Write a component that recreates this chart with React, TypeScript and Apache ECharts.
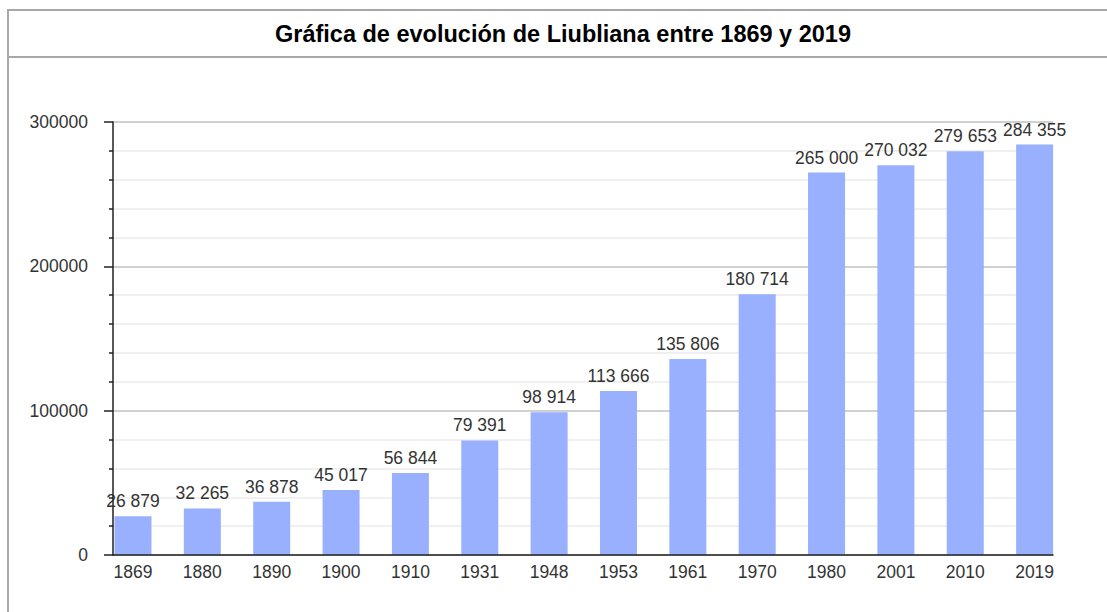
import React, { useEffect, useRef } from "react";
import * as echarts from "echarts";

const years = ["1869", "1880", "1890", "1900", "1910", "1931", "1948", "1953", "1961", "1970", "1980", "2001", "2010", "2019"];
const population = [26879, 32265, 36878, 45017, 56844, 79391, 98914, 113666, 135806, 180714, 265000, 270032, 279653, 284355];
const yTicks = { min: 0, max: 300000, interval: 100000 };
const titleText = "Gráfica de evolución de Liubliana entre 1869 y 2019";

const fmt = (v: number) => String(v).replace(/\B(?=(\d{3})+(?!\d))/g, " ");

export default function App() {
  const ref = useRef<HTMLDivElement>(null);
  useEffect(() => {
    if (!ref.current) return;
    const chart = echarts.init(ref.current, undefined, { renderer: "svg" });
    const font = "'Liberation Sans', Arial, sans-serif";
    chart.setOption({
      animation: false,
      backgroundColor: "#ffffff",
      textStyle: { fontFamily: font },
      graphic: [
        {
          type: "rect",
          shape: { x: 8, y: 10, width: 1300, height: 800 },
          style: { fill: "none", stroke: "#a8a8a8", lineWidth: 2 },
          z: 10,
        },
        {
          type: "line",
          shape: { x1: 8, y1: 57, x2: 1107, y2: 57 },
          style: { stroke: "#a8a8a8", lineWidth: 2 },
          z: 10,
        },
        {
          type: "text",
          x: 563,
          y: 34,
          style: {
            text: titleText,
            font: "bold 23.5px 'Liberation Sans', Arial, sans-serif",
            fill: "#000",
            textAlign: "center",
            textVerticalAlign: "middle",
          },
          z: 10,
        },
      ],
      grid: [
        { left: 113, top: 122, width: 940, height: 433, containLabel: false },
        { left: 98.3, top: 122, width: 971, height: 433, containLabel: false },
      ],
      xAxis: [
        {
          gridIndex: 0,
          type: "value",
          min: 0,
          max: 1,
          z: 5,
          axisLine: { show: true, lineStyle: { color: "#222", width: 1.5 } },
          axisTick: { show: false },
          axisLabel: { show: false },
          splitLine: { show: false },
        },
        {
          gridIndex: 1,
          type: "category",
          data: years,
          axisLine: { show: false },
          axisTick: { show: false },
          axisLabel: { fontSize: 17.5, color: "#333", margin: 8, fontFamily: font },
          splitLine: { show: false },
        },
      ],
      yAxis: [
        {
          gridIndex: 0,
          type: "value",
          min: yTicks.min,
          max: yTicks.max,
          interval: yTicks.interval,
          z: 0,
          axisLine: { show: true, lineStyle: { color: "#222", width: 1.5 } },
          axisTick: { show: true, length: 9, lineStyle: { color: "#222", width: 1.5 } },
          minorTick: { show: true, splitNumber: 5, length: 4, lineStyle: { color: "#222", width: 1.5 } },
          axisLabel: { fontSize: 17.5, color: "#333", margin: 25, fontFamily: font, formatter: (v: number) => String(v) },
          splitLine: { show: true, lineStyle: { color: "#c0c0c0", width: 1.5 } },
          minorSplitLine: { show: true, lineStyle: { color: "#ebebeb", width: 1.5 } },
        },
        {
          gridIndex: 1,
          type: "value",
          min: yTicks.min,
          max: yTicks.max,
          show: false,
          splitLine: { show: false },
        },
      ],
      series: [
        {
          type: "bar",
          xAxisIndex: 1,
          yAxisIndex: 1,
          data: population,
          barWidth: 37,
          z: 2,
          itemStyle: { color: "#99b0ff" },
          label: {
            show: true,
            position: "top",
            distance: 6,
            fontSize: 17.5,
            color: "#333",
            fontFamily: font,
            formatter: (p: any) => fmt(p.value),
          },
        },
      ],
    });
    return () => chart.dispose();
  }, []);
  return <div ref={ref} style={{ position: "absolute", left: 0, top: 0, width: 1107, height: 612 }} />;
}
